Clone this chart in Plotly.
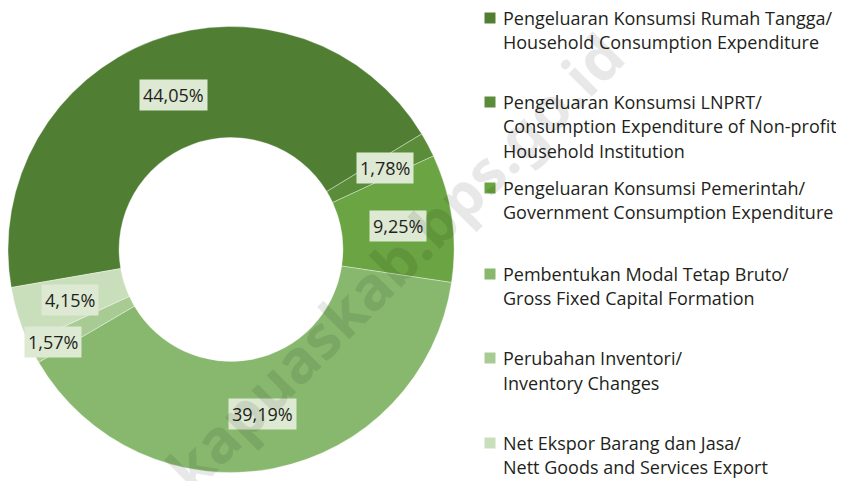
import math
import plotly.graph_objects as go

# ---- data ----
labels_id = [
    "Pengeluaran Konsumsi Rumah Tangga/",
    "Pengeluaran Konsumsi LNPRT/",
    "Pengeluaran Konsumsi Pemerintah/",
    "Pembentukan Modal Tetap Bruto/",
    "Perubahan Inventori/",
    "Net Ekspor Barang dan Jasa/",
]
labels_en = [
    ["Household Consumption Expenditure"],
    ["Consumption Expenditure of Non-profit", "Household Institution"],
    ["Government Consumption Expenditure"],
    ["Gross Fixed Capital Formation"],
    ["Inventory Changes"],
    ["Nett Goods and Services Export"],
]
shares = [44.05, 1.78, 9.25, 39.19, 1.57, 4.15]

# ---- styles ----
colors = ["#507f34", "#5a8c3a", "#6aa443", "#87b86d", "#a8cb93", "#c9deba"]
label_bg = "#dde9d2"
text_color = "#231f20"
FONT = "Open Sans"
OFF = 8                       # page body margin
W, H = 836, 473               # figure size (fills the window after the body margin)
cx, cy, R = 231, 249.5, 223   # donut centre / radius in window px
hole = 0.502
rotation = 260.2
label_r = [0.739, 0.78, 0.755, 0.75, 0.90, 0.758]   # radial position of value boxes
legend_x_marker = 490
legend_x_text = 501
legend_line_y = [[18, 42], [102, 126, 151], [188, 212], [274, 298], [358, 383], [443, 467]]
fs = 18

def px(x):
    return min(max((x - OFF) / W, 0), 1)

def py(y):
    return min(max(1 - (y - OFF) / H, 0), 1)

fig = go.Figure()
fig.add_trace(go.Pie(
    values=shares,
    labels=[a + " " + " ".join(b) for a, b in zip(labels_id, labels_en)],
    hole=hole,
    sort=False,
    direction="clockwise",
    rotation=rotation,
    marker=dict(colors=colors, line=dict(color="rgba(255,255,255,0.45)", width=0.8)),
    textinfo="none",
    hoverinfo="label+percent",
    domain=dict(x=[px(cx - R), px(cx + R)], y=[py(cy + R), py(cy - R)]),
    showlegend=False,
))

annotations = []
shapes = []

# value boxes placed at each slice's mid-angle
total = sum(shares)
acc = 0.0
for v, rf in zip(shares, label_r):
    mid = rotation + 360 * (acc + v / 2) / total
    acc += v
    t = math.radians(mid)
    x = cx + R * rf * math.sin(t)
    y = cy - R * rf * math.cos(t)
    annotations.append(dict(
        x=px(x), y=py(y), xref="paper", yref="paper",
        xanchor="center", yanchor="middle",
        text=f"{v:.2f}".replace(".", ",") + "%",
        showarrow=False, bgcolor=label_bg, borderpad=3,
        font=dict(family=FONT, size=fs, color=text_color),
    ))

# legend (custom, to match line spacing)
for i, (lid, len_) in enumerate(zip(labels_id, labels_en)):
    lines = [lid] + len_
    ys = legend_line_y[i]
    shapes.append(dict(
        type="rect", xref="paper", yref="paper",
        x0=px(legend_x_marker - 5.5), x1=px(legend_x_marker + 5.5),
        y0=py(ys[0] + 5.5), y1=py(ys[0] - 5.5),
        fillcolor=colors[i], line=dict(width=0),
    ))
    for ln, yy in zip(lines, ys):
        annotations.append(dict(
            x=px(legend_x_text), y=py(yy), xref="paper", yref="paper",
            xanchor="left", yanchor="middle", text=ln, showarrow=False,
            font=dict(family=FONT, size=fs, color=text_color),
        ))

# watermark overlay
annotations.append(dict(
    x=px(394), y=py(262), xref="paper", yref="paper",
    xanchor="center", yanchor="middle",
    text="<b>kapuaskab.bps.go.id</b>", showarrow=False, textangle=-45,
    font=dict(family="Noto Sans", size=60, color="rgba(0,0,0,0.09)"),
))

fig.update_layout(
    width=W, height=H,
    margin=dict(l=0, r=0, t=0, b=0),
    paper_bgcolor="white", plot_bgcolor="white",
    annotations=annotations, shapes=shapes,
)

fig.write_html("out.html")
